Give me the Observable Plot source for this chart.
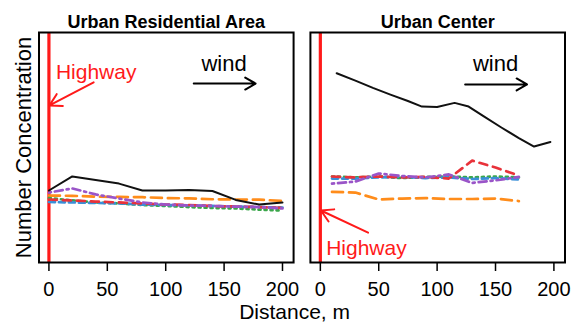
<!DOCTYPE html>
<html><head><meta charset="utf-8">
<script src="https://cdn.jsdelivr.net/npm/d3@7"></script>
<script src="https://cdn.jsdelivr.net/npm/@observablehq/plot@0.6"></script>
<style>body{margin:0;background:#fff}</style>
</head><body><div id="chart"></div>
<script>
const panels = ["Urban Residential Area", "Urban Center"];
const seriesNames = ["Total", "Size 1", "Size 2", "Size 3", "Size 4", "Size 5"];
const xTicks = [0, 50, 100, 150, 200];

// Urban Residential Area
const residentialDistance = [0, 20, 40, 60, 80, 100, 120, 140, 160, 180, 200];
const residentialTotal = [31.3, 37.4, 35.9, 34.3, 31.3, 31.3, 31.5, 31.1, 27.2, 25.2, 26.1];
const residentialSize1 = [29.1, 29.0, 28.6, 28.5, 28.4, 28.0, 27.9, 27.5, 27.4, 27.3, 26.8];
const residentialSize2 = [27.4, 27.0, 26.5, 26.1, 25.7, 25.2, 25.0, 24.6, 24.3, 24.1, 23.7];
const residentialSize3 = [28.0, 27.0, 26.1, 25.7, 25.0, 24.6, 24.1, 23.7, 23.5, 23.0, 22.6];
const residentialSize4 = [26.3, 26.1, 25.9, 25.7, 25.2, 25.0, 24.8, 24.6, 24.3, 24.1, 23.9];
const residentialSize5 = [30.4, 32.2, 29.6, 27.8, 26.1, 25.2, 24.8, 24.6, 24.3, 24.1, 23.5];

// Urban Center
const centerTotalDistance = [14, 30, 45, 60, 75, 87, 100, 115, 127, 140, 155, 170, 183, 197];
const centerTotal = [82.3, 79.1, 75.9, 73.0, 70.2, 67.8, 67.6, 69.4, 67.8, 63.5, 58.7, 54.1, 50.4, 52.4];
const centerDistance = [10, 30, 50, 70, 90, 110, 130, 150, 170];
const centerSize1 = [30.7, 30.4, 27.4, 27.8, 28.0, 27.6, 27.6, 27.8, 26.7];
const centerSize2 = [37.4, 37.0, 37.4, 37.0, 37.2, 36.5, 44.3, 41.3, 37.8];
const centerSize3 = [37.4, 37.0, 37.4, 36.7, 37.2, 37.4, 37.0, 37.4, 37.0];
const centerSize4 = [36.5, 36.5, 37.0, 37.2, 36.7, 37.0, 36.3, 36.7, 36.1];
const centerSize5 = [34.3, 35.2, 38.7, 37.6, 37.0, 38.3, 34.6, 35.7, 37.2];

// annotations (data units)
const highwayLabels = [
  {panel: panels[0], distance: 6, value: 86.1},
  {panel: panels[1], distance: 5, value: 9.6}
];
const highwayArrows = [
  {panel: panels[0], d1: 38.3, v1: 78.3, d2: 0.5, v2: 68.3},
  {panel: panels[1], d1: 40.9, v1: 13.0, d2: 0.5, v2: 22.6}
];
const windLabels = [
  {panel: panels[0], distance: 150, value: 90},
  {panel: panels[1], distance: 150, value: 90}
];
const windArrows = [
  {panel: panels[0], d1: 124, d2: 177, v: 77.8},
  {panel: panels[1], d1: 124, d2: 177, v: 77.4}
];

const rows = [];
function add(panel, series, xs, ys) {
  xs.forEach((d, i) => rows.push({panel, series, distance: d, value: ys[i]}));
}
add(panels[0], seriesNames[0], residentialDistance, residentialTotal);
add(panels[0], seriesNames[1], residentialDistance, residentialSize1);
add(panels[0], seriesNames[2], residentialDistance, residentialSize2);
add(panels[0], seriesNames[3], residentialDistance, residentialSize3);
add(panels[0], seriesNames[4], residentialDistance, residentialSize4);
add(panels[0], seriesNames[5], residentialDistance, residentialSize5);
add(panels[1], seriesNames[0], centerTotalDistance, centerTotal);
add(panels[1], seriesNames[1], centerDistance, centerSize1);
add(panels[1], seriesNames[2], centerDistance, centerSize2);
add(panels[1], seriesNames[3], centerDistance, centerSize3);
add(panels[1], seriesNames[4], centerDistance, centerSize4);
add(panels[1], seriesNames[5], centerDistance, centerSize5);

const styles = {
  "Total":  {stroke: "#111111", width: 2, dash: null},
  "Size 1": {stroke: "#ff8c1a", width: 2.7, dash: "11,6"},
  "Size 2": {stroke: "#e8323a", width: 2.7, dash: "8,6"},
  "Size 3": {stroke: "#3aa64a", width: 2.7, dash: "2,4"},
  "Size 4": {stroke: "#3a8fd8", width: 2.7, dash: "6,4"},
  "Size 5": {stroke: "#9a55c8", width: 2.7, dash: "2,4,8,4"}
};

const red = "#ff1a1a";
const font = "Liberation Sans, Arial, Helvetica, sans-serif";

const lineOrder = ["Size 1", "Size 3", "Size 4", "Size 2", "Size 5", "Total"];
const lineMarks = lineOrder.map(s => Plot.line(rows.filter(r => r.series === s), {
  x: "distance", y: "value", fx: "panel",
  stroke: styles[s].stroke, strokeWidth: styles[s].width,
  strokeDasharray: styles[s].dash, strokeLinejoin: "round"
}));

const chart = Plot.plot({
  width: 574,
  height: 322,
  marginLeft: 38.5,
  marginRight: 9.5,
  marginTop: 32,
  marginBottom: 60,
  style: {fontFamily: font, background: "white", color: "black", overflow: "visible"},
  fx: {domain: panels, paddingInner: 0.062, paddingOuter: 0, round: false, axis: null, label: null},
  x: {domain: [-8.5, 209.5], axis: null},
  y: {domain: [0, 100], axis: null},
  marks: [
    Plot.ruleX(panels, {x: 0, fx: d => d, stroke: red, strokeWidth: 3.2}),
    ...lineMarks,
    Plot.frame({stroke: "black", strokeWidth: 2}),
    Plot.axisX({ticks: xTicks, tickSize: 9, tickPadding: 10, fontSize: 20, label: null, strokeWidth: 1.5}),
    Plot.text(panels, {fx: d => d, text: d => d, frameAnchor: "top", dy: -17, lineAnchor: "top",
      fontWeight: "bold", fontSize: 18}),
    Plot.text([panels[0]], {fx: d => d, text: () => "Number Concentration", frameAnchor: "left",
      rotate: -90, lineAnchor: "top", textAnchor: "middle", dx: -24, fontSize: 22}),
    Plot.text([panels[0]], {fx: d => d, text: () => "Distance, m", frameAnchor: "bottom-right",
      lineAnchor: "top", textAnchor: "middle", dx: 1, dy: 42, fontSize: 21}),
    Plot.text(highwayLabels, {fx: "panel", x: "distance", y: "value", text: () => "Highway",
      fill: red, textAnchor: "start", lineAnchor: "top", fontSize: 21}),
    Plot.arrow(highwayArrows, {fx: "panel", x1: "d1", y1: "v1", x2: "d2", y2: "v2",
      stroke: red, strokeWidth: 2, headLength: 10, bend: 0}),
    Plot.text(windLabels, {fx: "panel", x: "distance", y: "value", text: () => "wind",
      textAnchor: "middle", lineAnchor: "top", fontSize: 22, fill: "black"}),
    Plot.arrow(windArrows, {fx: "panel", x1: "d1", y1: "v", x2: "d2", y2: "v",
      stroke: "black", strokeWidth: 2, headLength: 9, bend: 0})
  ]
});
document.getElementById("chart").appendChild(chart);
</script>
</body></html>
